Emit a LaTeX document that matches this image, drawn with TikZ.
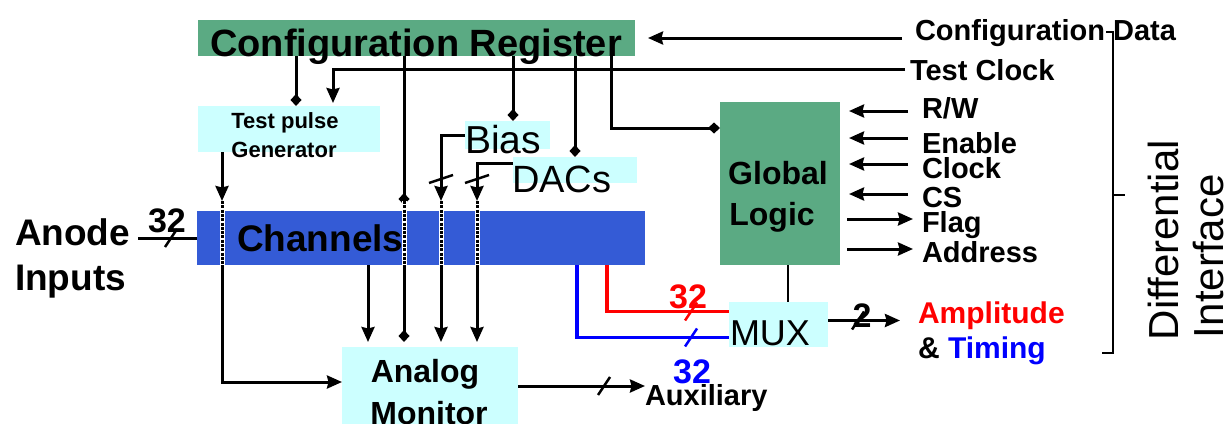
\documentclass[tikz,border=0pt]{standalone}
\usepackage{fontspec}
\setmainfont{Liberation Sans}
\usepackage{color}
\definecolor{mygreen}{RGB}{91,170,131}
\definecolor{mycyan}{RGB}{204,255,255}
\definecolor{myblue}{RGB}{52,91,214}
\usetikzlibrary{arrows.meta,calc,positioning}

\newcommand{\fsz}[1]{\fontsize{#1}{#1}\selectfont}

\begin{document}
\begin{tikzpicture}[
  x=1pt, y=-1pt,
  line width=3pt,
  block/.style={draw=none, inner sep=0pt, outer sep=0pt},
  txt/.style={inner sep=0pt, outer sep=0pt, anchor=base},
  arr/.style={-{Stealth[length=15pt,width=13pt,inset=1.5pt]}},
  dia/.style={-{Diamond[length=12pt,width=11pt]}},
  through/.style={draw=white, line width=5pt,
    postaction={draw=black, line width=3pt, dash pattern=on 3pt off 1.3pt}},
  hbus/.pic={\draw[line width=2.5pt] (-6,9) -- (6,-9);},
  vbus/.pic={\draw[line width=2.5pt] (-12,4) -- (12,-4);}
]
\useasboundingbox (0,0) rectangle (1225,423);

% blocks
\node[block, fill=mygreen, minimum width=437, minimum height=36] (cfg) at (416.5,38) {};
\node[block, fill=mycyan, minimum width=182, minimum height=46] (tpg) at (289,129) {};
\node[block, fill=mycyan, minimum width=85, minimum height=28] (bias) at (507.5,135) {};
\node[block, fill=mycyan, minimum width=124, minimum height=26] (dacs) at (575,170) {};
\node[block, fill=myblue, minimum width=448, minimum height=54] (chn) at (421,238) {};
\node[block, fill=mygreen, minimum width=120, minimum height=163] (glb) at (780,183.5) {};
\node[block, fill=mycyan, minimum width=99, minimum height=45] (mux) at (778.5,324.5) {};
\node[block, fill=mycyan, minimum width=176, minimum height=78] (amon) at (430,386) {};

% texts
\node[txt, font=\bfseries\fsz{38}] (cfgtxt) at (416,56) {Configuration Register};
\node[txt, anchor=base west, font=\bfseries\fsz{29}] (cfgdata) at (915,40) {Configuration Data};
\node[txt, anchor=base west, font=\bfseries\fsz{29}] (tclk) at (910,80) {Test Clock};
\node[txt, font=\bfseries\fsz{22}] (tp1) at (285,128) {Test pulse};
\node[txt, font=\bfseries\fsz{22}] (tp2) at (284,157) {Generator};
\node[txt, anchor=base west, font=\fsz{39}] (biastxt) at (465,153) {Bias};
\node[txt, anchor=base west, font=\fsz{38}] (dacstxt) at (512,192) {DACs};
\node[txt, anchor=base west, font=\bfseries\fsz{37}] (chntxt) at (237,251) {Channels};
\node[txt, anchor=base west, font=\bfseries\fsz{37}] (anode) at (15,245) {Anode};
\node[txt, anchor=base west, font=\bfseries\fsz{37}] (inputs) at (15,290) {Inputs};
\node[txt, font=\bfseries\fsz{34}] (n32in) at (167,232) {32};
\node[txt, font=\bfseries\fsz{32}] (amon1) at (425,382) {Analog};
\node[txt, font=\bfseries\fsz{32}] (amon2) at (429,424) {Monitor};
\node[txt, anchor=base west, font=\bfseries\fsz{29}] (aux) at (645,405) {Auxiliary};
\node[txt, font=\bfseries\fsz{34}, red] (n32amp) at (688,308) {32};
\node[txt, font=\bfseries\fsz{34}, blue] (n32tim) at (692,383) {32};
\node[txt, anchor=base west, font=\fsz{36}] (muxtxt) at (730,345) {MUX};
\node[txt, font=\bfseries\fsz{32}] (glb1) at (778,184) {Global};
\node[txt, font=\bfseries\fsz{32}] (glb2) at (772,225) {Logic};
\node[txt, font=\bfseries\fsz{34}] (n2out) at (862,327) {2};
\node[txt, anchor=base west, font=\bfseries\fsz{30}, red] (amp) at (918,323) {Amplitude};
\node[txt, anchor=base west, font=\bfseries\fsz{30}] (tim) at (918,358) {\& \textcolor{blue}{Timing}};
\node[txt, anchor=base west, rotate=90, font=\fsz{42}] (diff) at (1178,340) {Differential};
\node[txt, anchor=base west, rotate=90, font=\fsz{42}] (intf) at (1223,338) {Interface};

% columns of the vertical wires
\coordinate (tpdown) at (222,0);
\coordinate (cfgtp) at (296,0);
\coordinate (tclkx) at (333,0);
\coordinate (chnmon) at (368,0);
\coordinate (cfgmon) at (404,0);
\coordinate (biasx) at (441,0);
\coordinate (dacx) at (477,0);
\coordinate (cfgbias) at (513,0);
\coordinate (cfgdac) at (575,0);
\coordinate (bluex) at (577,0);
\coordinate (redx) at (607,0);
\coordinate (cfgglb) at (611,0);
\coordinate (glbmux) at (788,0);
\coordinate (glbin) at ([yshift=-26pt]glb.north west);
\coordinate (monin) at ([yshift=4pt]amon.west);
\coordinate (muxout) at ([yshift=4pt]mux.east);

% configuration and test clock inputs
\draw[arr, shorten <=13pt, shorten >=13pt] (cfg.east -| cfgdata.west) -- (cfg.east);
\draw[arr, shorten <=5pt, shorten >=3pt] (tclk.west) -| (tpg.north -| tclkx);

% configuration register fan-out
\draw[dia] (cfg.south -| cfgtp) -- (tpg.north -| cfgtp);
\draw[dia] (cfg.south -| cfgbias) -- (bias.north -| cfgbias);
\draw[dia] (cfg.south -| cfgdac) -- (dacs.north -| cfgdac);
\draw[dia] (cfg.south -| cfgglb) |- (glbin);
\draw[dia, shorten >=6pt] (cfg.south -| cfgmon) -- (chn.north -| cfgmon);

% into the channels
\draw[arr, shorten >=10pt] (tpg.south -| tpdown) -- (chn.north -| tpdown);
\draw[arr, shorten >=10pt] (bias.west) -| (chn.north -| biasx);
\draw[arr, shorten >=10pt] ([yshift=7pt]dacs.west) -| (chn.north -| dacx);
\pic at ($(chn.north -| biasx)+(0,-32)$) {vbus};
\pic at ($(chn.north -| dacx)+(0,-32)$) {vbus};

\foreach \Col in {tpdown,cfgmon,biasx,dacx}
  \draw[through] ($(chn.north -| \Col)+(0,-10)$) -- (chn.south -| \Col);

% anode inputs
\draw[shorten <=8pt] (chn.west -| anode.east) -- (chn.west);
\pic at ($(chn.west)+(-26,0)$) {hbus};

% analog monitor
\draw[arr] (chn.south -| tpdown) |- (monin);
\draw[arr, shorten >=5pt] (chn.south -| chnmon) -- (amon.north -| chnmon);
\draw[dia, shorten >=5pt] (chn.south -| cfgmon) -- (amon.north -| cfgmon);
\draw[arr, shorten >=5pt] (chn.south -| biasx) -- (amon.north -| biasx);
\draw[arr, shorten >=5pt] (chn.south -| dacx) -- (amon.north -| dacx);
\draw[arr] (amon.east) -- (amon.east -| aux.west);
\pic at ($(amon.east)+(86,0)$) {hbus};

% amplitude and timing buses
\draw[red, line width=3.5pt] (chn.south -| redx) |- ([yshift=13pt]mux.west);
\draw[blue, line width=3.5pt] (chn.south -| bluex) |- ([yshift=-13pt]mux.west);
\pic[color=red] at ($(mux.west)+(-38,-13)$) {hbus};
\pic[color=blue] at ($(mux.west)+(-38,13)$) {hbus};

\draw[line width=2.5pt] (glb.south -| glbmux) -- (mux.north -| glbmux);
\draw[arr, shorten >=18pt] (muxout) -- (muxout -| amp.west);
\pic at ($(muxout)+(30,0)$) {hbus};

% global logic signals
\foreach \Sname/\Stext/\Sarrow/\Sbase [count=\Sidx from 1] in
  {rw/{R/W}/111/118, en/Enable/138/153, clk/Clock/164/178,
   cs/CS/194/207, flag/Flag/219/232, addr/Address/249/262}
{
  \node[txt, anchor=base west, font=\bfseries\fsz{29}] (\Sname) at (922,\Sbase) {\Stext};
  \ifnum\Sidx<5
    \draw[arr, shorten <=14pt, shorten >=9pt] (\Sname.west |- 0,\Sarrow) -- (glb.east |- 0,\Sarrow);
  \else
    \draw[arr, shorten <=7pt, shorten >=9pt] (glb.east |- 0,\Sarrow) -- (\Sname.west |- 0,\Sarrow);
  \fi
}

% differential interface bracket
\draw[line width=2pt] (1106,32) -| (1113,353) -- (1102,353);
\draw[line width=2pt] (1113,195) -- (1125,195);

\end{tikzpicture}
\end{document}
